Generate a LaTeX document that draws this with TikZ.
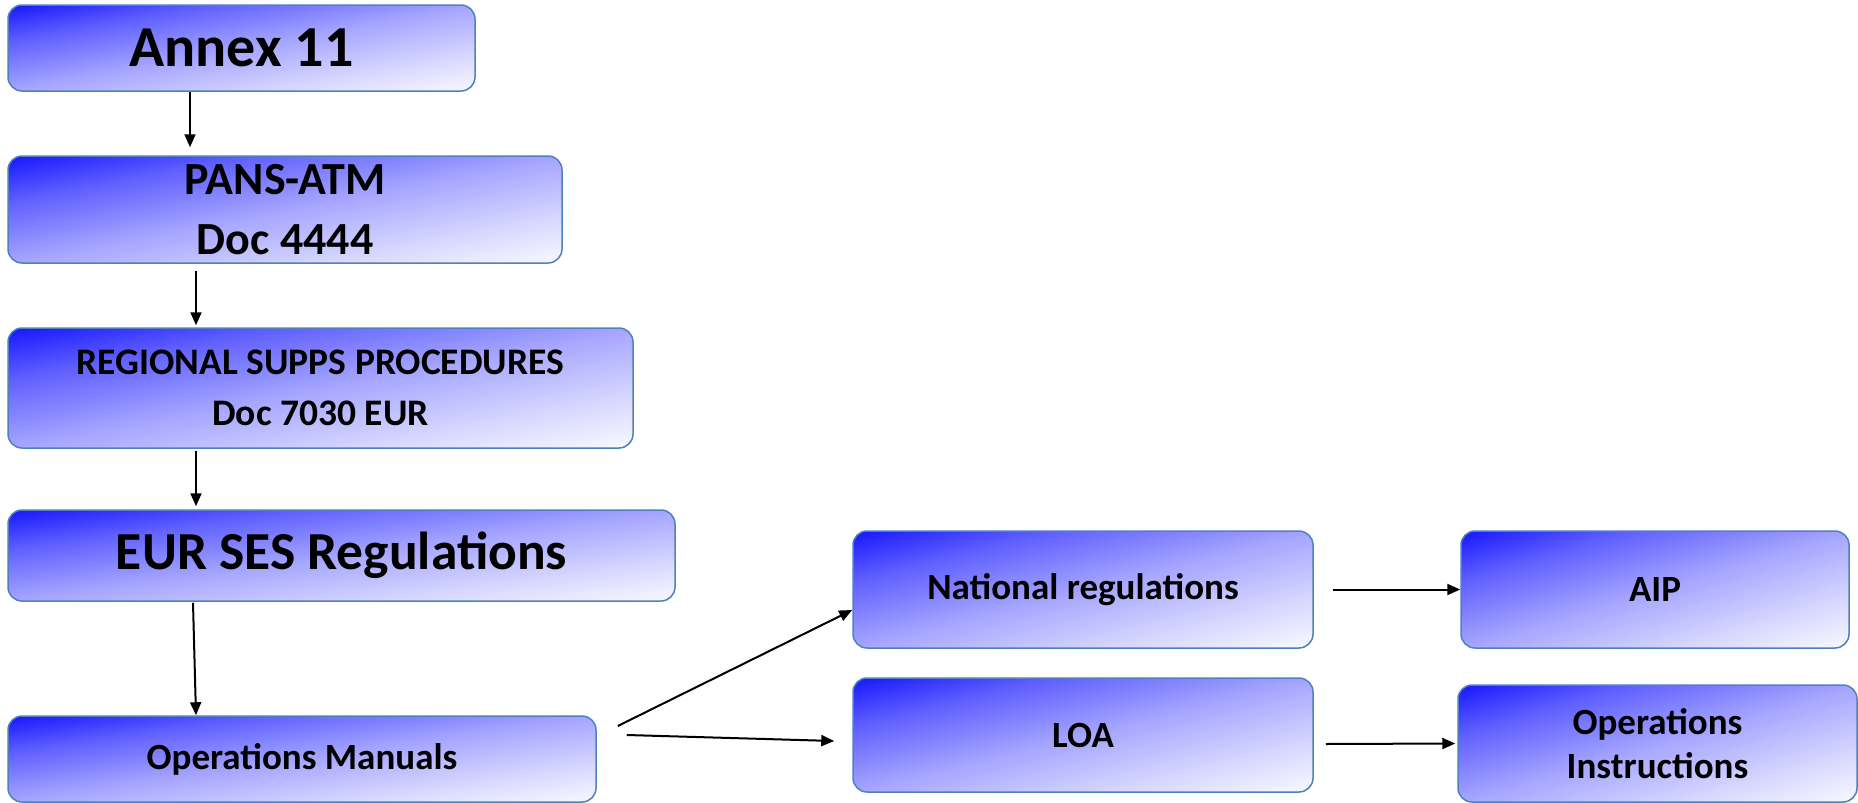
\documentclass[tikz,border=0pt]{standalone}
\usepackage{fontspec}
\setmainfont{Carlito}
\usetikzlibrary{arrows.meta}

\definecolor{boxblue}{RGB}{20,20,255}
\definecolor{boxdeep}{RGB}{95,95,255}
\definecolor{boxmid}{RGB}{165,165,255}
\definecolor{boxpale}{RGB}{215,215,255}
\definecolor{boxlight}{RGB}{250,250,255}
\definecolor{boxline}{RGB}{79,129,189}

\pgfdeclareverticalshading{docshade}{100bp}{color(0bp)=(boxlight); color(22bp)=(boxpale); color(50bp)=(boxmid); color(78bp)=(boxdeep); color(100bp)=(boxblue)}

\tikzset{
	docfill/.style={path picture={
			\pgftransformreset
			\pgfpointdiff{\pgfpointanchor{path picture bounding box}{south west}}{\pgfpointanchor{path picture bounding box}{north east}}
			\pgfgetlastxy{\boxw}{\boxh}
			\pgfmathsetmacro{\boxsx}{\boxw/70}
			\pgfmathsetmacro{\boxsy}{\boxh/70}
			\pgftransformshift{\pgfpointanchor{path picture bounding box}{center}}
			\pgftransformxscale{\boxsx}
			\pgftransformyscale{\boxsy}
			\pgftransformrotate{45}
			\pgflowlevelsynccm
			\pgfuseshading{docshade}
		}},
	docbox/.style={docfill, draw=boxline, line width=1.5pt, rounded corners=14pt,
		align=center, inner sep=0pt, font=\bfseries\fontsize{37}{44}\selectfont},
	link/.style={-{Triangle[length=13pt,width=11pt]}, line width=2pt}
}

\begin{document}
\begin{tikzpicture}[x=1pt, y=-1pt]
	\useasboundingbox (0,0) rectangle (1858,803);
	
	% Left column
	\node[docbox, minimum width=467pt, minimum height=86pt, font=\bfseries\fontsize{58}{58}\selectfont] (annex) at (241.5, 48) {Annex 11};
	\node[docbox, minimum width=554pt, minimum height=107pt, font=\bfseries\fontsize{46}{60}\selectfont] (pans) at (285, 209.5) {PANS-ATM\\Doc 4444};
	\node[docbox, minimum width=625pt, minimum height=120pt, font=\bfseries\fontsize{37.5}{51}\selectfont] (regional) at (320.5, 388) {REGIONAL SUPPS PROCEDURES\\Doc 7030 EUR};
	\node[docbox, minimum width=667pt, minimum height=91pt, font=\bfseries\fontsize{53.5}{53.5}\selectfont] (eurses) at (341.5, 555.5) {EUR SES Regulations};
	\node[docbox, minimum width=588pt, minimum height=86pt] (opman) at (302, 759) {Operations Manuals};
	
	% Middle column
	\node[docbox, minimum width=460pt, minimum height=117pt] (natreg) at (1083, 589.5) {National regulations};
	\node[docbox, minimum width=460pt, minimum height=114pt] (loa) at (1083, 735) {LOA};
	
	% Right column
	\node[docbox, minimum width=388pt, minimum height=117pt] (aip) at (1655, 589.5) {AIP};
	\node[docbox, minimum width=399pt, minimum height=117pt] (opinstr) at (1657.5, 743.5) {Operations\\Instructions};
	
	% Connections
	\draw[link] ([xshift=-51.5pt]annex.south) -- ([xshift=-95pt, yshift=8pt]pans.north);
	\draw[link] ([xshift=-89pt, yshift=-7pt]pans.south) -- ([xshift=-124.5pt, yshift=2pt]regional.north);
	\draw[link] ([xshift=-124.5pt, yshift=-2pt]regional.south) -- ([xshift=-145.5pt, yshift=3pt]eurses.north);
	\draw[link] ([xshift=-148.5pt, yshift=-1pt]eurses.south) -- ([xshift=-106pt]opman.north);
	
	\draw[link] ([xshift=21pt, yshift=33pt]opman.east) -- ([yshift=-20.5pt]natreg.west);
	\draw[link] ([xshift=30pt, yshift=24pt]opman.east) -- ([xshift=-18pt, yshift=-6pt]loa.west);
	\draw[link] ([xshift=19pt]natreg.east) -- (aip.west);
	\draw[link] ([xshift=12pt, yshift=-9pt]loa.east) -- ([xshift=-2pt]opinstr.west);
\end{tikzpicture}
\end{document}
